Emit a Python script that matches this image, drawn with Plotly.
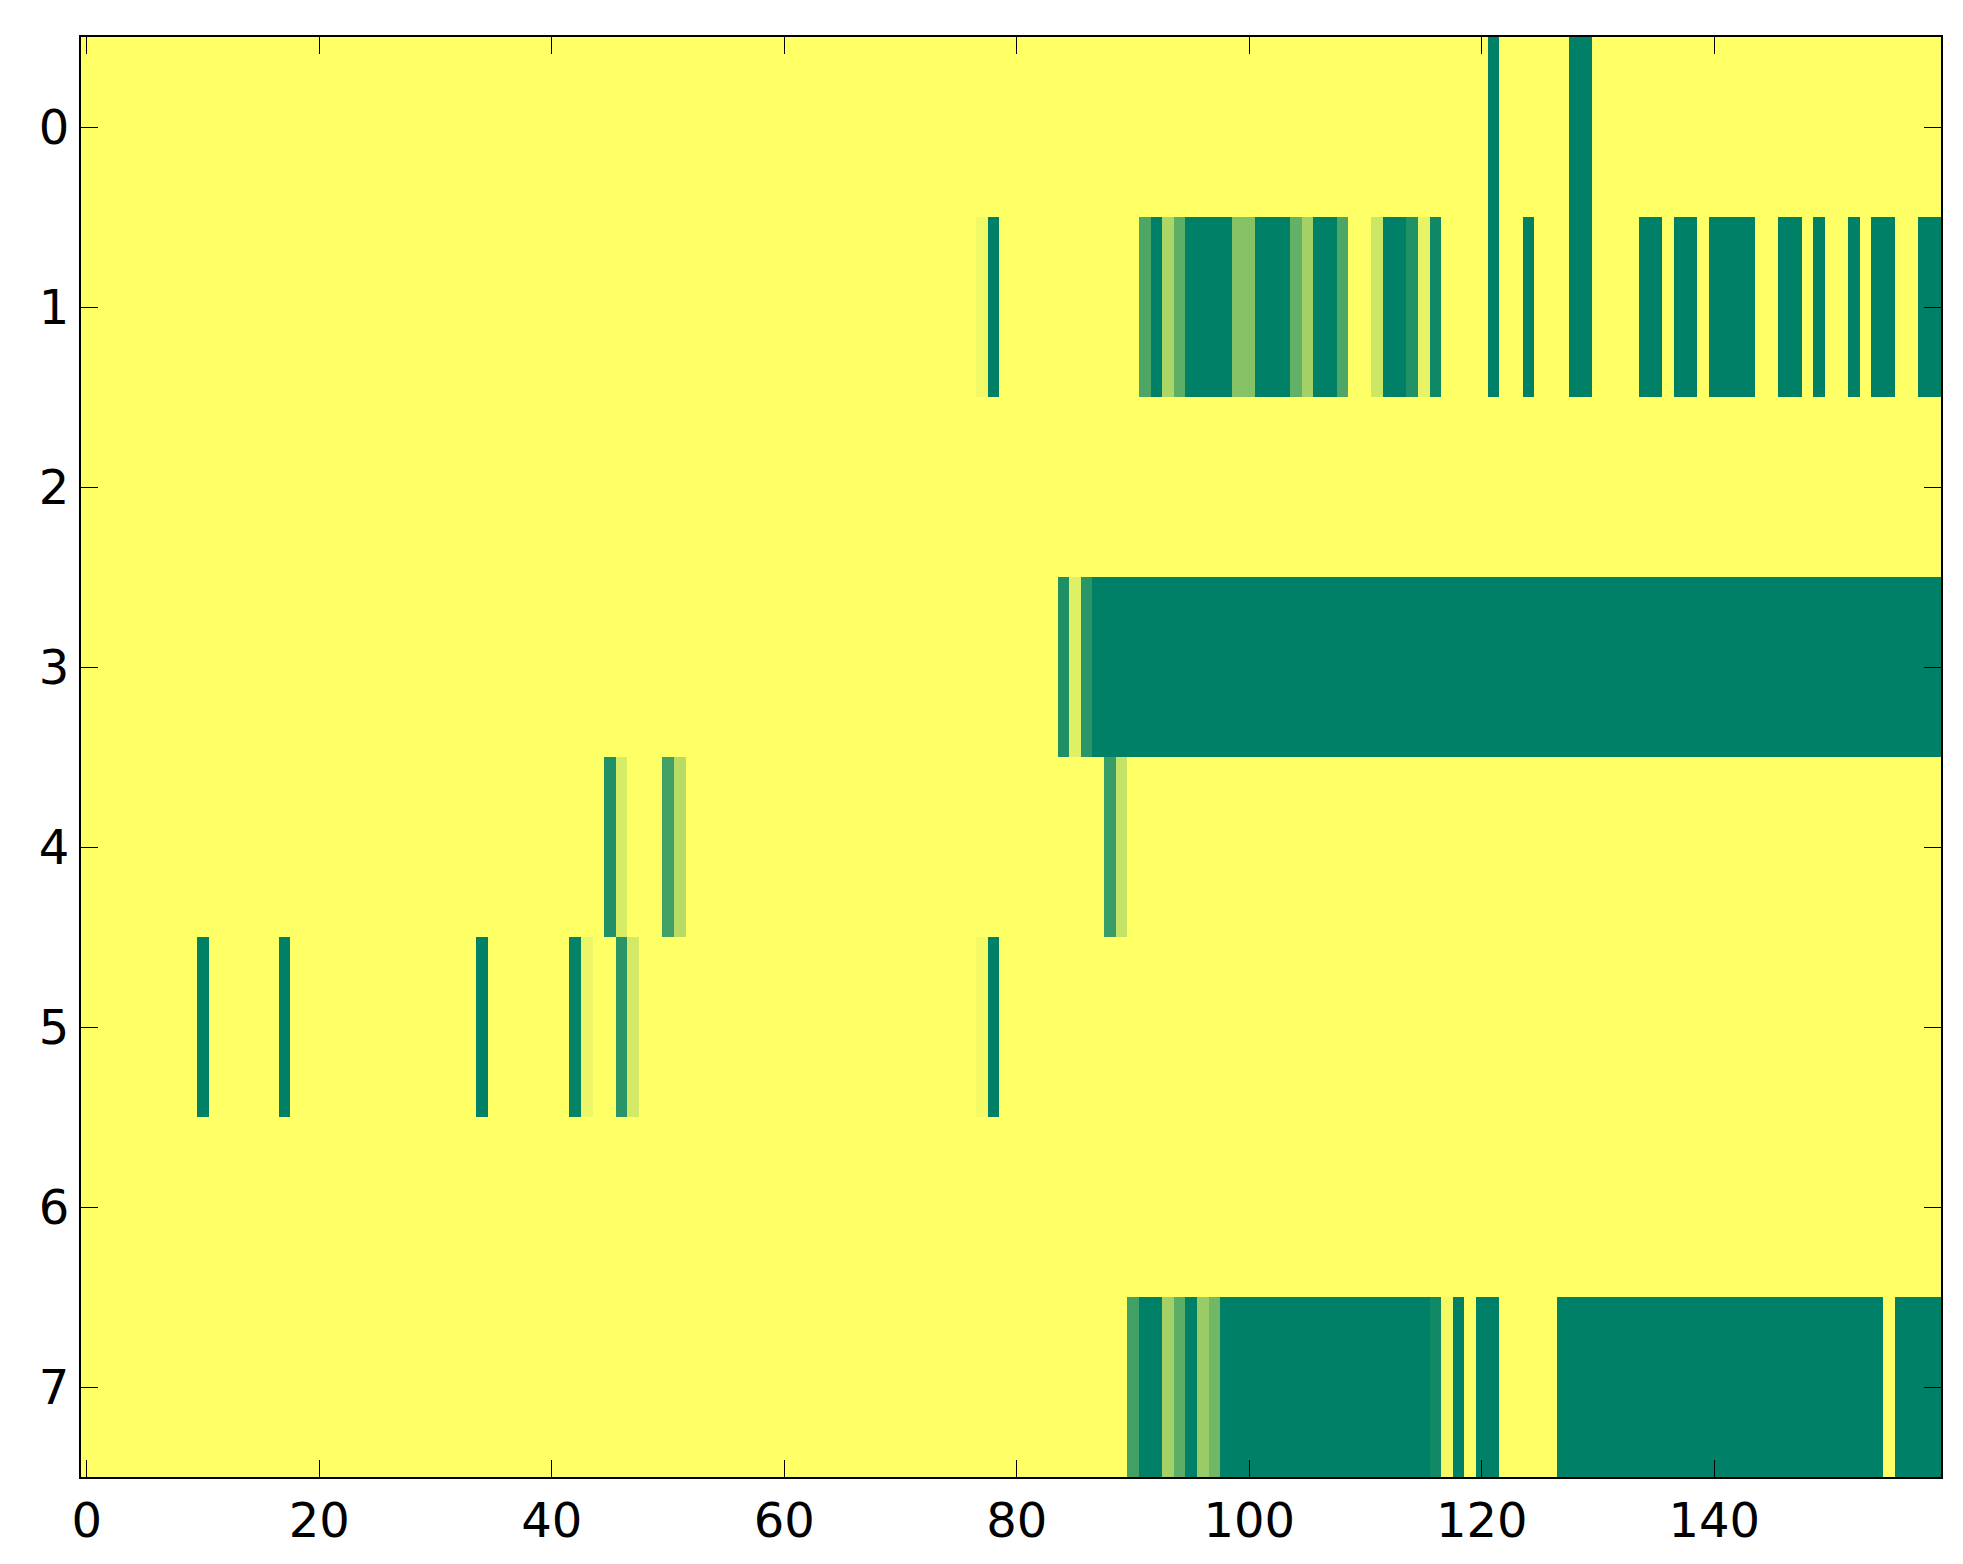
import plotly.graph_objects as go

N_ROWS = 8
N_COLS = 160

# cells that are not full yellow: (first col, last col, value) per row
row0_runs = [(121, 121, 0.0), (128, 129, 0.0)]
row1_runs = [
    (77, 77, 0.95), (78, 78, 0.0),
    (91, 91, 0.30), (92, 92, 0.0), (93, 93, 0.675), (94, 94, 0.37),
    (95, 98, 0.0), (99, 100, 0.52), (101, 103, 0.0), (104, 104, 0.385),
    (105, 105, 0.64), (106, 107, 0.0), (108, 108, 0.30), (111, 111, 0.80),
    (112, 113, 0.0), (114, 114, 0.13), (115, 115, 0.91), (116, 116, 0.06),
    (121, 121, 0.0), (124, 124, 0.0), (128, 129, 0.0), (134, 135, 0.0),
    (137, 138, 0.0), (140, 143, 0.0), (146, 147, 0.0), (149, 149, 0.0),
    (152, 152, 0.0), (154, 155, 0.0), (158, 159, 0.0),
]
row2_runs = []
row3_runs = [(84, 84, 0.12), (85, 85, 0.88), (86, 86, 0.165), (87, 159, 0.0)]
row4_runs = [(45, 45, 0.125), (46, 46, 0.84), (50, 50, 0.25), (51, 51, 0.72),
             (88, 88, 0.22), (89, 89, 0.77)]
row5_runs = [(10, 10, 0.0), (17, 17, 0.0), (34, 34, 0.0), (42, 42, 0.02),
             (43, 43, 0.93), (46, 46, 0.16), (47, 47, 0.83),
             (77, 77, 0.955), (78, 78, 0.0)]
row6_runs = []
row7_runs = [
    (90, 90, 0.25), (91, 92, 0.0), (93, 93, 0.64), (94, 94, 0.36),
    (95, 95, 0.0), (96, 96, 0.60), (97, 97, 0.44), (98, 115, 0.0),
    (116, 116, 0.065), (117, 117, 0.955), (118, 118, 0.0),
    (120, 121, 0.0), (127, 154, 0.0), (156, 159, 0.0),
]

x_ticks = [0, 20, 40, 60, 80, 100, 120, 140]
y_ticks = [0, 1, 2, 3, 4, 5, 6, 7]

all_runs = [row0_runs, row1_runs, row2_runs, row3_runs,
            row4_runs, row5_runs, row6_runs, row7_runs]
z = []
for runs in all_runs:
    row = [1.0] * N_COLS
    for a, b, v in runs:
        for c in range(a, b + 1):
            row[c] = v
    z.append(row)

# matplotlib "summer"
summer = [[0.0, "#008066"], [1.0, "#ffff66"]]

fig = go.Figure(go.Heatmap(
    z=z, x=list(range(N_COLS)), y=list(range(N_ROWS)),
    colorscale=summer, zmin=0, zmax=1, showscale=False,
))

axis_common = dict(
    showline=True, linecolor="black", linewidth=2.3, mirror="allticks",
    ticks="inside", ticklen=17, tickwidth=1.3, tickcolor="black",
    showgrid=False, zeroline=False,
    tickfont=dict(family="DejaVu Sans", size=48, color="black"),
)
fig.update_xaxes(range=[-0.5, N_COLS - 0.5], tickvals=x_ticks, **axis_common)
fig.update_yaxes(range=[N_ROWS - 0.5, -0.5], tickvals=y_ticks, **axis_common)

fig.update_layout(
    width=1963, height=1564,
    margin=dict(l=73, r=30, t=29, b=95),
    paper_bgcolor="white", plot_bgcolor="white",
)

fig.write_html("out.html")
